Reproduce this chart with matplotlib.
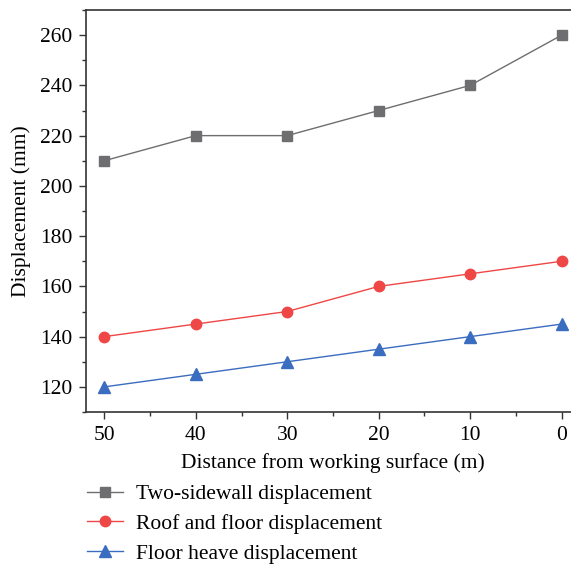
import matplotlib.pyplot as plt
from matplotlib.ticker import MultipleLocator

distance = [50, 40, 30, 20, 10, 0]
sidewall = [210, 220, 220, 230, 240, 260]
roof_floor = [140, 145, 150, 160, 165, 170]
floor_heave = [120, 125, 130, 135, 140, 145]

plt.rcParams["font.family"] = ["Liberation Serif", "DejaVu Serif"]
fs = 15.5

fig = plt.figure(figsize=(5.71, 5.65), dpi=100)
ax = fig.add_axes([86 / 571, 153 / 565, 494 / 571, 402 / 565])

ax.plot(distance, sidewall, color="#6e6e70", marker="s", markersize=6.5, lw=1.0,
        label="Two-sidewall displacement")
ax.plot(distance, roof_floor, color="#ef4646", marker="o", markersize=7.5, lw=1.0,
        label="Roof and floor displacement")
ax.plot(distance, floor_heave, color="#3a6cc0", marker="^", markersize=8, lw=1.0,
        label="Floor heave displacement")

ax.set_xlim(52, -2)
ax.set_ylim(110, 270)
ax.xaxis.set_major_locator(MultipleLocator(10))
ax.xaxis.set_minor_locator(MultipleLocator(5))
ax.yaxis.set_major_locator(MultipleLocator(20))
ax.yaxis.set_minor_locator(MultipleLocator(10))
ax.tick_params(which="major", direction="out", length=5, width=1, labelsize=fs,
               color="#333333", pad=5)
ax.tick_params(which="minor", direction="out", length=3, width=1, color="#333333")
for s in ax.spines.values():
    s.set_color("#333333")
    s.set_linewidth(1.2)

ax.set_xlabel("Distance from working surface (m)", fontsize=fs, labelpad=6)
ax.set_ylabel("Displacement (mm)", fontsize=fs, labelpad=6)

fig.legend(loc="upper left", bbox_to_anchor=(0.152, 0.143), frameon=False,
           fontsize=fs, handlelength=1.7, labelspacing=0.45, handletextpad=0.6,
           borderaxespad=0, borderpad=0)

fig.savefig("out.png", dpi=100)
